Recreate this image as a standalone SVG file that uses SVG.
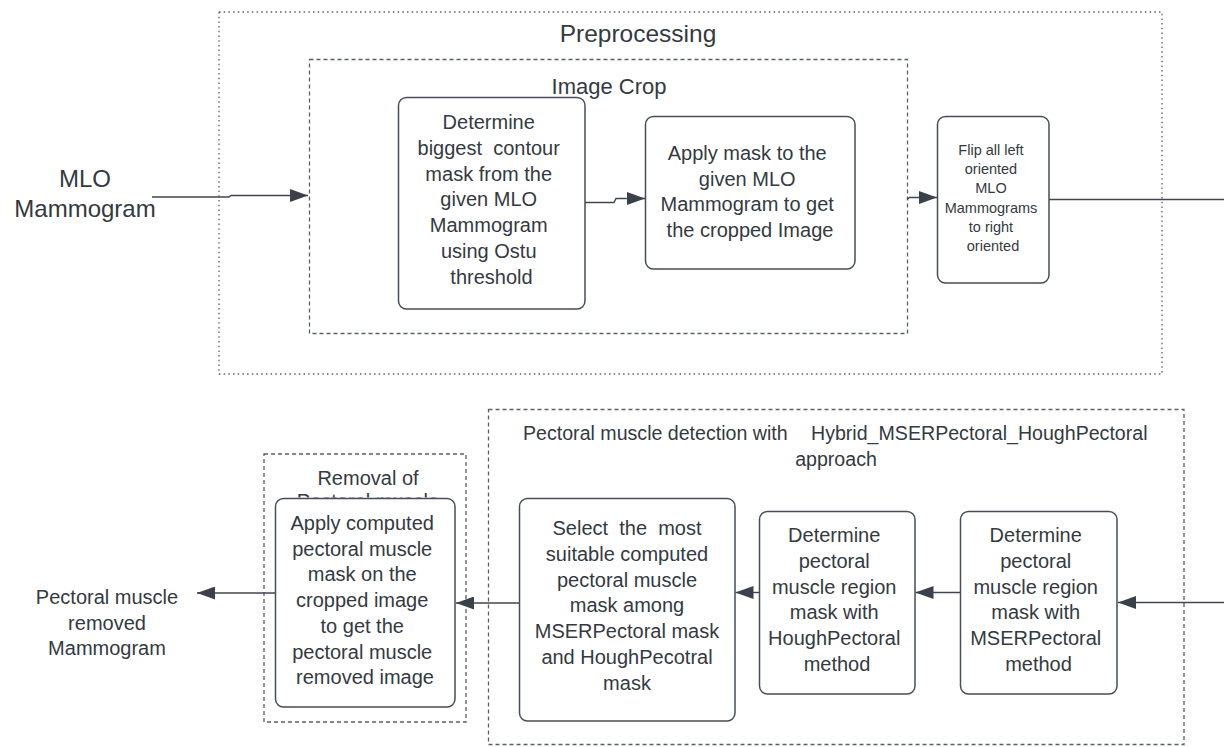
<svg xmlns="http://www.w3.org/2000/svg" width="1224" height="747" viewBox="0 0 1224 747">
  <style>
    .box { fill: #ffffff; stroke: #474e57; stroke-width: 1.5; }
    .dotted { fill: none; stroke: #5a6069; stroke-width: 1.3; stroke-dasharray: 1.5 3.2; }
    .dashed { fill: none; stroke: #5a6069; stroke-width: 1.3; stroke-dasharray: 4 3; }
    .t { font-family: "Liberation Sans", Arial, sans-serif; fill: #333a42; text-anchor: middle; }
    .f20 { font-size: 20px; }
    .f14 { font-size: 14.5px; }
    .conn { fill: none; stroke: #3f464f; stroke-width: 1.4; }
  </style>
  <defs>
    <marker id="ah" viewBox="0 0 18 13" refX="18" refY="6.5" markerWidth="18" markerHeight="13" markerUnits="userSpaceOnUse" orient="auto">
      <path d="M0,0 L18,6.5 L0,13 z" fill="#3a414a"/>
    </marker>
    <!-- only the part of the caption above the node edge stays visible -->
    <clipPath id="aboveNode">
      <rect x="264" y="454" width="202" height="43.5"/>
    </clipPath>
  </defs>

  <rect width="1224" height="747" fill="#ffffff"/>

  <!-- Preprocessing container -->
  <g id="preprocessing">
    <rect class="dotted" x="219" y="12" width="943" height="362"/>
    <text class="t" x="638" y="41.5" font-size="24.5">Preprocessing</text>
  </g>

  <!-- Image Crop container -->
  <g id="image-crop">
    <rect class="dashed" x="309.5" y="59.5" width="598" height="274"/>
    <text class="t" x="609" y="94" font-size="22">Image Crop</text>
  </g>

  <!-- Pectoral muscle detection container -->
  <g id="pectoral-detection">
    <rect class="dashed" x="488.5" y="409.5" width="695.5" height="335"/>
    <text class="t" font-size="19.6" y="440" style="text-anchor:start">
      <tspan x="523">Pectoral muscle detection with</tspan>
      <tspan x="811">Hybrid_MSERPectoral_HoughPectoral</tspan>
    </text>
    <text class="t" font-size="19.6" x="836" y="466">approach</text>
  </g>

  <!-- Removal container (second caption line runs behind the node) -->
  <g id="removal">
    <rect class="dashed" x="264" y="454" width="202" height="268"/>
    <text class="t f20" x="368" y="485">Removal of</text>
    <text class="t f20" x="368" y="507.5" clip-path="url(#aboveNode)">Pectoral muscle</text>
  </g>

  <!-- Input label -->
  <g id="input-label">
    <text class="t" font-size="24" x="85" y="187">MLO</text>
    <text class="t" font-size="24" x="85" y="217">Mammogram</text>
  </g>

  <!-- Output label -->
  <g id="output-label">
    <text class="t f20" x="107" y="604">Pectoral muscle</text>
    <text class="t f20" x="107" y="629.7">removed</text>
    <text class="t f20" x="107" y="655.4">Mammogram</text>
  </g>

  <!-- Connectors -->
  <g id="connectors">
    <path class="conn" d="M152,197 H229 L231,195.5 H308" marker-end="url(#ah)"/>
    <path class="conn" d="M585,202.5 H614 L616,198.5 H645" marker-end="url(#ah)"/>
    <path class="conn" d="M907,199.5 L909.5,197.5 H937" marker-end="url(#ah)"/>
    <path class="conn" d="M1049,199.5 H1240 V602.5 H1118" marker-end="url(#ah)"/>
    <path class="conn" d="M960,592.5 H915.5" marker-end="url(#ah)"/>
    <path class="conn" d="M759,592.5 H735.5" marker-end="url(#ah)"/>
    <path class="conn" d="M519,603 H456" marker-end="url(#ah)"/>
    <path class="conn" d="M275,593 H197" marker-end="url(#ah)"/>
  </g>

  <!-- Nodes -->
  <g id="contour-mask">
    <rect class="box" x="398.5" y="97.5" width="186.5" height="211.5" rx="8"/>
    <text class="t f20" x="491.5" y="129">
      <tspan x="491.5">Determine</tspan>
      <tspan x="491.5" dy="25.8" xml:space="preserve">biggest  contour</tspan>
      <tspan x="491.5" dy="25.8">mask from the</tspan>
      <tspan x="491.5" dy="25.8">given MLO</tspan>
      <tspan x="491.5" dy="25.8">Mammogram</tspan>
      <tspan x="491.5" dy="25.8">using Ostu</tspan>
      <tspan x="491.5" dy="25.8">threshold</tspan>
    </text>
  </g>

  <g id="apply-mask">
    <rect class="box" x="645.5" y="116.5" width="209.5" height="152.5" rx="8"/>
    <text class="t f20" x="750" y="160">
      <tspan x="750">Apply mask to the</tspan>
      <tspan x="750" dy="25.7">given MLO</tspan>
      <tspan x="750" dy="25.7">Mammogram to get</tspan>
      <tspan x="750" dy="25.7">the cropped Image</tspan>
    </text>
  </g>

  <g id="flip">
    <rect class="box" x="937.5" y="116.5" width="111.5" height="166.5" rx="8"/>
    <text class="t f14" x="993" y="155">
      <tspan x="993">Flip all left</tspan>
      <tspan x="993" dy="19.2">oriented</tspan>
      <tspan x="993" dy="19.2">MLO</tspan>
      <tspan x="993" dy="19.2">Mammograms</tspan>
      <tspan x="993" dy="19.2">to right</tspan>
      <tspan x="993" dy="19.2">oriented</tspan>
    </text>
  </g>

  <g id="mser-mask">
    <rect class="box" x="960.5" y="511.5" width="156.5" height="182.5" rx="8"/>
    <text class="t f20" x="1038.5" y="542">
      <tspan x="1038.5">Determine</tspan>
      <tspan x="1038.5" dy="25.8">pectoral</tspan>
      <tspan x="1038.5" dy="25.8">muscle region</tspan>
      <tspan x="1038.5" dy="25.8">mask with</tspan>
      <tspan x="1038.5" dy="25.8">MSERPectoral</tspan>
      <tspan x="1038.5" dy="25.8">method</tspan>
    </text>
  </g>

  <g id="hough-mask">
    <rect class="box" x="759.5" y="511.5" width="155.5" height="182.5" rx="8"/>
    <text class="t f20" x="837" y="542">
      <tspan x="837">Determine</tspan>
      <tspan x="837" dy="25.8">pectoral</tspan>
      <tspan x="837" dy="25.8">muscle region</tspan>
      <tspan x="837" dy="25.8">mask with</tspan>
      <tspan x="837" dy="25.8">HoughPectoral</tspan>
      <tspan x="837" dy="25.8">method</tspan>
    </text>
  </g>

  <g id="select-mask">
    <rect class="box" x="519.5" y="498.5" width="215.5" height="222.5" rx="8"/>
    <text class="t f20" x="627" y="535" xml:space="preserve"><tspan x="627">Select  the  most</tspan><tspan x="627" dy="25.8">suitable computed</tspan><tspan x="627" dy="25.8">pectoral muscle</tspan><tspan x="627" dy="25.8">mask among</tspan><tspan x="627" dy="25.8">MSERPectoral mask</tspan><tspan x="627" dy="25.8">and HoughPecotral</tspan><tspan x="627" dy="25.8">mask</tspan></text>
  </g>

  <g id="apply-pectoral-mask">
    <rect class="box" x="275.5" y="498.5" width="179.5" height="208.5" rx="8"/>
    <text class="t f20" x="365" y="530">
      <tspan x="365">Apply computed</tspan>
      <tspan x="365" dy="25.7">pectoral muscle</tspan>
      <tspan x="365" dy="25.7">mask on the</tspan>
      <tspan x="365" dy="25.7">cropped image</tspan>
      <tspan x="365" dy="25.7">to get the</tspan>
      <tspan x="365" dy="25.7">pectoral muscle</tspan>
      <tspan x="365" dy="25.7">removed image</tspan>
    </text>
  </g>
</svg>
